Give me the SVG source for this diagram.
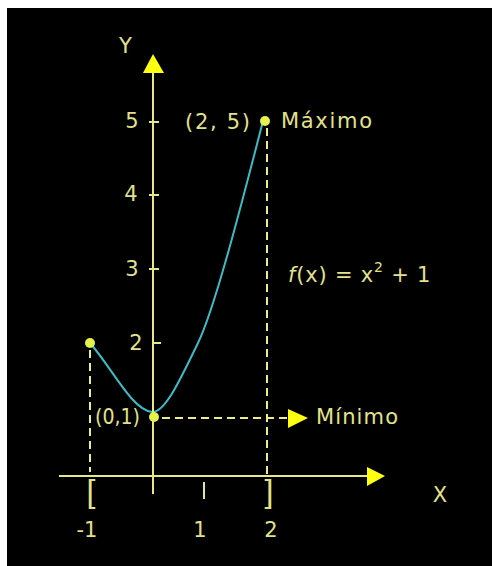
<svg xmlns="http://www.w3.org/2000/svg" width="492" height="566" viewBox="0 0 492 566">
<style>
.ax{stroke:#e6e68a;stroke-width:2;fill:none}
.dash{stroke:#ecec8c;stroke-width:2;fill:none;stroke-dasharray:8 5}
.arr{fill:#ffff10}
.pt{fill:#e6f24c}
.t{font-family:"DejaVu Sans","Liberation Sans",sans-serif;font-size:21px;fill:#e2e28c}
.br{font-family:"Liberation Sans","DejaVu Sans",sans-serif;font-size:32px;fill:#e2e28c}
.curve{stroke:#3cbcc6;stroke-width:2;fill:none}
</style>
<rect x="0" y="0" width="492" height="566" fill="#ffffff"/>
<rect x="7" y="8" width="485" height="558" fill="#000000"/>
<g id="connectors">
<path class="curve" d="M90,343 C112,368 132,410 152,412 C165,413 180,380 198,343 S245,190 263,121"/>
<line class="dash" x1="90" y1="350" x2="90" y2="472"/>
<line class="dash" x1="267" y1="128" x2="267" y2="476"/>
<line class="dash" x1="162" y1="418" x2="289" y2="418"/>
<polygon class="arr" points="308,418 288,409 288,428"/>
</g>
<g id="y-axis">
<line class="ax" x1="153" y1="70" x2="153" y2="494"/>
<polygon class="arr" points="153,54 143,73 164,73"/>
<line class="ax" x1="149" y1="122" x2="159" y2="122"/>
<line class="ax" x1="149" y1="195" x2="159" y2="195"/>
<line class="ax" x1="149" y1="269" x2="159" y2="269"/>
<line class="ax" x1="153" y1="343" x2="161" y2="343"/>
<text class="t" x="125.5" y="53" text-anchor="middle">Y</text>
<text class="t" x="132" y="128" text-anchor="middle">5</text>
<text class="t" x="131" y="201" text-anchor="middle">4</text>
<text class="t" x="132" y="276" text-anchor="middle">3</text>
<text class="t" x="136" y="350" text-anchor="middle">2</text>
</g>
<g id="x-axis">
<line class="ax" x1="59" y1="476" x2="370" y2="476"/>
<polygon class="arr" points="385,476 367,467 367,486"/>
<line class="ax" x1="204" y1="482" x2="204" y2="499"/>
<text class="br" x="91" y="502" text-anchor="middle">[</text>
<text class="br" x="269" y="502" text-anchor="middle">]</text>
<text class="t" x="87" y="537" text-anchor="middle">-1</text>
<text class="t" x="200" y="537" text-anchor="middle">1</text>
<text class="t" x="271" y="537" text-anchor="middle">2</text>
<text class="t" x="440" y="502" text-anchor="middle">X</text>
</g>
<g id="point-min">
<circle class="pt" cx="154" cy="417" r="5"/>
<text class="t" x="95" y="424" textLength="45" lengthAdjust="spacingAndGlyphs">(0,1)</text>
<text class="t" x="316" y="424" textLength="82" lengthAdjust="spacing">Mínimo</text>
</g>
<g id="point-max">
<circle class="pt" cx="265" cy="121" r="5"/>
<text class="t" x="185" y="129" textLength="65" lengthAdjust="spacing">(2, 5)</text>
<text class="t" x="281" y="128" textLength="91" lengthAdjust="spacing">Máximo</text>
</g>
<g id="point-start">
<circle class="pt" cx="90" cy="343" r="5"/>
</g>
<g id="formula">
<text class="t" x="288" y="282" style="letter-spacing:0.8px"><tspan font-style="italic">f</tspan>(x) = x<tspan dy="-10" style="font-size:14px">2</tspan><tspan dy="10"> + 1</tspan></text>
</g>
</svg>
